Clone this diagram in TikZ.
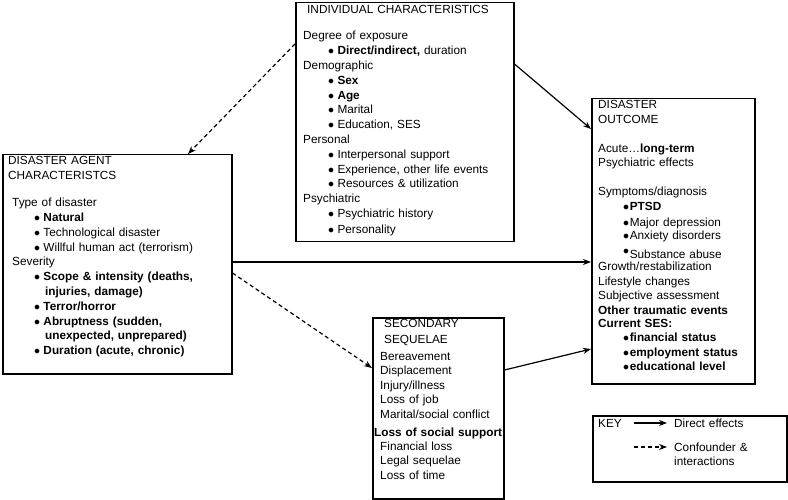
\documentclass[tikz,border=0pt]{standalone}
\usepackage{fontspec}
\setmainfont{Liberation Sans}
\usetikzlibrary{calc}
\usetikzlibrary{arrows.meta}
\newcommand{\bdot}{$\bullet$}
\newcommand{\bul}[2][3.3pt]{\hspace*{#2}\bdot\hspace{#1}}

\begin{document}
\begin{tikzpicture}[x=1pt,y=-1pt,
  box/.style={draw,line width=1.5pt,inner sep=0pt,anchor=north west},
  txt/.style={inner sep=0pt,anchor=base west,align=left,text width=#1,
    font=\fontsize{11.8}{14.8}\selectfont},
  direct/.style={line width=1.2pt,-{Stealth[length=8pt,width=6pt]}},
  confound/.style={direct,dash pattern=on 4pt off 3pt}]
\useasboundingbox (0,0) rectangle (788,500);

\node[box,minimum width=218pt,minimum height=239pt] (indiv) at (295,2) {};
\node[box,minimum width=229pt,minimum height=219pt] (agent) at (2,154) {};
\node[box,minimum width=163pt,minimum height=285pt] (outcome) at (591,98) {};
\node[box,minimum width=131pt,minimum height=181pt] (sequel) at (372,317) {};
\node[box,minimum width=194pt,minimum height=66pt] (key) at (592,415) {};

\node[txt=208pt] (indivtxt) at (303,14) {%
\hspace*{4pt}INDIVIDUAL CHARACTERISTICS\\[11.2pt]
Degree of exposure\\
\bul{25pt}\textbf{Direct/indirect,} duration\\
Demographic\\
\bul{25pt}\textbf{Sex}\\
\bul{25pt}\textbf{Age}\\
\bul{25pt}Marital\\
\bul{25pt}Education, SES\\
Personal\\
\bul{25pt}Interpersonal support\\
\bul{25pt}Experience, other life events\\
\bul{25pt}Resources \& utilization\\
Psychiatric\\
\bul{25pt}Psychiatric history\\[1pt]
\bul{25pt}Personality};

\node[txt=222pt] (agenttxt) at (8,165) {%
DISASTER AGENT\\
CHARACTERISTCS\\[12.2pt]
\hspace*{4pt}Type of disaster\\
\bul{26pt}\textbf{Natural}\\
\bul{26pt}Technological disaster\\
\bul{26pt}Willful human act (terrorism)\\
\hspace*{4pt}Severity\\
\bul{26pt}\textbf{Scope \& intensity (deaths,}\\
\hspace*{37pt}\textbf{injuries, damage)}\\
\bul{26pt}\textbf{Terror/horror}\\
\bul{26pt}\textbf{Abruptness (sudden,}\\
\hspace*{37pt}\textbf{unexpected, unprepared)}\\
\bul{26pt}\textbf{Duration (acute, chronic)}};

\node[txt=156pt,font=\fontsize{11.8}{14.4}\selectfont] (outcometxt) at (598,109) {%
DISASTER\\
OUTCOME\\[14.6pt]
Acute\ldots\textbf{long-term}\\
Psychiatric effects\\[14.6pt]
Symptoms/diagnosis\\
\bul[0.6pt]{25pt}\textbf{PTSD}\\[1.5pt]
\bul[0.6pt]{25pt}Major depression\\[-1pt]
\bul[0.6pt]{25pt}Anxiety disorders\\[4.6pt]
\hspace*{25pt}\raisebox{4pt}{\bdot}\hspace{0.6pt}Substance abuse\\[-2.4pt]
Growth/restabilization\\[0.6pt]
Lifestyle changes\\
Subjective assessment\\
\textbf{Other traumatic events}\\[-1pt]
\textbf{Current SES:}\\[-1pt]
\bul[0.6pt]{25pt}\textbf{financial status}\\[0.6pt]
\bul[0.6pt]{25pt}\textbf{employment status}\\
\bul[0.6pt]{25pt}\textbf{educational level}};

\node[txt=126pt,font=\fontsize{11.8}{14.5}\selectfont] (sequeltxt) at (380,327) {%
\hspace*{4pt}SECONDARY\\[1.5pt]
\hspace*{4pt}SEQUELAE\\[2.5pt]
Bereavement\\
Displacement\\
Injury/illness\\
Loss of job\\
Marital/social conflict\\[3.5pt]
\hspace*{-6pt}\textbf{Loss of social support}\\
Financial loss\\
Legal sequelae\\
Loss of time};

\node[txt=40pt] (keytxt) at (598,427) {KEY};
\node[txt=100pt] (directtxt) at (674,427) {Direct effects};
\node[txt=100pt] (conftxt) at (674,451) {Confounder \&\\[-0.8pt]interactions};
\coordinate (kd0) at (634,423);
\coordinate (kd1) at (667,423);
\coordinate (kc0) at (634,447);
\coordinate (kc1) at (667,447);

\draw[confound] ([yshift=-42pt]indiv.north west) -- ([xshift=186pt]agent.north west);
\draw[direct] ([yshift=-62pt]indiv.north east) -- ([yshift=-31pt]outcome.north west);
\draw[direct] ([yshift=-108pt]agent.north east) -- ([yshift=-164pt]outcome.north west);
\draw[confound] ([yshift=-119pt]agent.north east) -- ([yshift=-51pt]sequel.north west);
\draw[direct] ([yshift=-53pt]sequel.north east) -- ([yshift=-251pt]outcome.north west);
\draw[direct] (kd0) -- (kd1);
\draw[confound] (kc0) -- (kc1);
\end{tikzpicture}
\end{document}
